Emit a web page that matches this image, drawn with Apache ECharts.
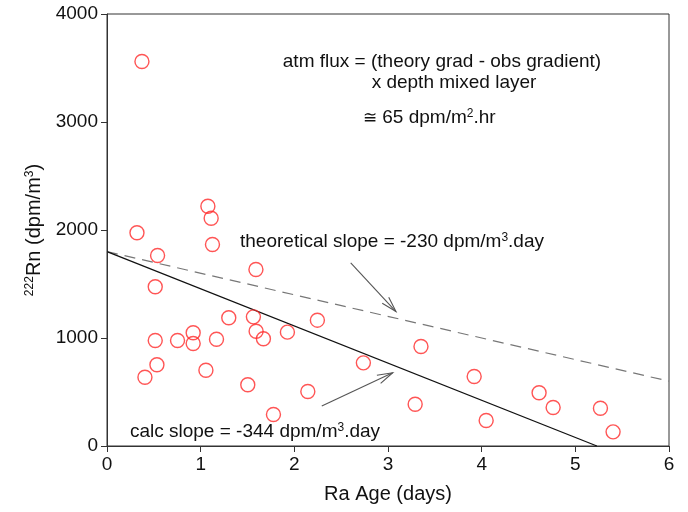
<!DOCTYPE html>
<html>
<head>
<meta charset="utf-8">
<script src="https://cdn.jsdelivr.net/npm/echarts@6/dist/echarts.min.js"></script>
<style>html,body{margin:0;padding:0;background:#fff}#c{width:688px;height:512px}</style>
</head>
<body>
<div id="c"></div>
<script>
// Ra age (days)
var raAge = [0.373, 1.077, 1.112, 0.32, 1.126, 0.54, 1.59, 0.515, 1.30, 1.563, 2.246, 0.92, 1.592, 1.926,
  0.515, 0.753, 0.92, 1.169, 1.67, 3.352, 0.533, 0.405, 1.056, 2.737, 1.503, 2.144, 3.92, 4.613,
  4.763, 3.29, 1.777, 4.048, 5.268, 5.403];
// 222Rn (dpm/m3)
var rn = [3560, 2220, 2109, 1974, 1866, 1764, 1634, 1474, 1187, 1196, 1165, 1048, 1063, 1054,
  977, 977, 949, 989, 993, 921, 752, 637, 702, 770, 567, 505, 643, 493,
  356, 387, 292, 236, 350, 131];
// fitted lines (endpoints)
var theoryLine = [[0, 1800], [6, 600]];
var calcLine = [[0, 1800], [5.23, 0]];
// annotation arrows [x1, y1, x2, y2] in data units
var arrows = [[2.602, 1695, 3.085, 1245], [2.293, 370, 3.05, 678]];
var xTicks = [0, 1, 2, 3, 4, 5, 6];
var yTicks = [0, 1000, 2000, 3000, 4000];

var FONT = '"Liberation Sans", Arial, sans-serif';
var chart = echarts.init(document.getElementById('c'));
var pts = raAge.map(function (x, i) { return [x, rn[i]]; });
var sup = { fontFamily: FONT, fontSize: 12, verticalAlign: 'top', padding: [0, 0, 9, 0], color: '#111' };

chart.setOption({
  animation: false,
  grid: { left: 107, right: 19, top: 14, bottom: 66, show: true, borderColor: '#333', borderWidth: 1 },
  xAxis: {
    type: 'value', min: xTicks[0], max: xTicks[xTicks.length - 1], interval: 1,
    name: 'Ra Age (days)', nameLocation: 'middle', nameGap: 38,
    nameTextStyle: { fontFamily: FONT, fontSize: 20, color: '#111' },
    axisLine: { lineStyle: { color: '#333' } },
    axisTick: { show: true, inside: false, length: 6, lineStyle: { color: '#333' } },
    axisLabel: { fontFamily: FONT, fontSize: 19, color: '#111', margin: 9 },
    splitLine: { show: false }
  },
  yAxis: {
    type: 'value', min: yTicks[0], max: yTicks[yTicks.length - 1], interval: 1000,
    name: '{s|222}Rn (dpm/m{s|3})', nameLocation: 'middle', nameGap: 62,
    nameTextStyle: { fontFamily: FONT, fontSize: 20, color: '#111', rich: { s: sup } },
    axisLine: { show: true, lineStyle: { color: '#333' } },
    axisTick: { show: true, inside: false, length: 6, lineStyle: { color: '#333' } },
    axisLabel: { fontFamily: FONT, fontSize: 19, color: '#111', margin: 9, formatter: function (v) { return String(v); } },
    splitLine: { show: false }
  },
  series: [
    {
      type: 'line', data: theoryLine, symbol: 'none', silent: true,
      lineStyle: { color: '#777', width: 1.2, type: [11, 7] }, z: 2
    },
    {
      type: 'line', data: calcLine, symbol: 'none', silent: true,
      lineStyle: { color: '#111', width: 1.3 }, z: 2
    },
    {
      type: 'scatter', data: pts, symbol: 'circle', symbolSize: 14,
      itemStyle: { color: 'rgba(0,0,0,0)', borderColor: '#ff2a2a', borderWidth: 1.4 }, z: 3
    },
    {
      type: 'custom', data: arrows, silent: true, z: 4,
      renderItem: function (params, api) {
        var a = api.coord([api.value(0), api.value(1)]);
        var b = api.coord([api.value(2), api.value(3)]);
        var ang = Math.atan2(b[1] - a[1], b[0] - a[0]);
        var L = 16, sp = 0.28;
        var h1 = [b[0] - L * Math.cos(ang - sp), b[1] - L * Math.sin(ang - sp)];
        var h2 = [b[0] - L * Math.cos(ang + sp), b[1] - L * Math.sin(ang + sp)];
        var st = { stroke: '#555', lineWidth: 1.1, fill: null };
        return {
          type: 'group', children: [
            { type: 'line', shape: { x1: a[0], y1: a[1], x2: b[0], y2: b[1] }, style: st },
            { type: 'polyline', shape: { points: [h1, b, h2] }, style: st }
          ]
        };
      }
    }
  ],
  graphic: [
    { type: 'text', x: 442, y: 62, style: { text: 'atm flux = (theory grad - obs gradient)', font: '19px ' + FONT, fill: '#111', align: 'center', verticalAlign: 'middle' } },
    { type: 'text', x: 454, y: 83, style: { text: 'x depth mixed layer', font: '19px ' + FONT, fill: '#111', align: 'center', verticalAlign: 'middle' } },
    { type: 'text', x: 363, y: 118, style: { text: '{g|≅} 65 dpm/m{s|2}.hr', font: '19px ' + FONT, fill: '#111', align: 'left', verticalAlign: 'middle',
        rich: { g: { fontFamily: FONT, fontSize: 17, color: '#777' }, s: sup } } },
    { type: 'text', x: 392, y: 242, style: { text: 'theoretical slope = -230 dpm/m{s|3}.day', font: '19px ' + FONT, fill: '#111', align: 'center', verticalAlign: 'middle',
        rich: { s: sup } } },
    { type: 'text', x: 255, y: 432, style: { text: 'calc slope = -344 dpm/m{s|3}.day', font: '19px ' + FONT, fill: '#111', align: 'center', verticalAlign: 'middle',
        rich: { s: sup } } }
  ]
});
</script>
</body>
</html>
